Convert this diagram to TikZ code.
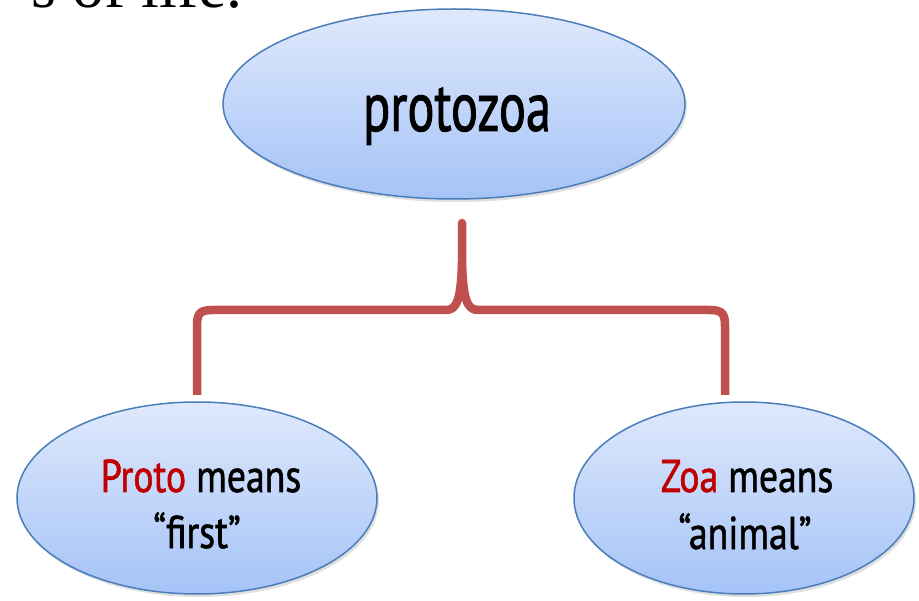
\documentclass[tikz,border=0pt]{standalone}
\usepackage{fontspec}
\setmainfont{Liberation Serif}
\newfontfamily\biglblfont[FakeStretch=0.72,FakeBold=1.2]{PT Sans}
\newfontfamily\lblfont[FakeStretch=0.82,FakeBold=1.2]{PT Sans}
\usetikzlibrary{shapes.geometric,shadows,calc}
\definecolor{bord}{HTML}{4A7EBB}
\definecolor{ftop}{HTML}{DFE9FC}
\definecolor{fbot}{HTML}{A5C3F7}
\definecolor{bracecol}{HTML}{C0504D}
\definecolor{redtxt}{HTML}{C00000}
\begin{document}
\begin{tikzpicture}[x=1pt,y=-1pt,
  bubble/.style={ellipse, draw=bord, line width=1.5pt, top color=ftop, bottom color=fbot, inner sep=0pt,
    drop shadow={opacity=0.25, shadow xshift=2pt, shadow yshift=-3pt}},
  lbl/.style={inner sep=0pt, anchor=base, font=\lblfont\fontsize{46}{50}\selectfont},
  bigl/.style={inner sep=0pt, anchor=base, font=\biglblfont\fontsize{70}{80}\selectfont},
  bracepath/.style={draw=bracecol, line width=8.5pt, line join=round}]
\useasboundingbox (0,0) rectangle (919,601);
\clip (0,0) rectangle (919,601);
\node[anchor=base east, inner sep=0pt, font=\fontsize{64}{70}\selectfont] (head) at (243,8) {s of life.};
\node[bubble, minimum width=462pt, minimum height=190pt] (T) at (454,104) {};
\node[bubble, minimum width=360pt, minimum height=192pt] (L) at (197,498) {};
\node[bubble, minimum width=340pt, minimum height=192pt] (R) at (744,498) {};
\node[bigl] (tT) at (457,131) {protozoa};
\node[lbl] (tL1) at (201,492) {\textcolor{redtxt}{Proto} means};
\node[lbl] (tL2) at (197,548) {“first”};
\node[lbl] (tR1) at (747,492) {\textcolor{redtxt}{Zoa} means};
\node[lbl] (tR2) at (745,549) {“animal”};
\coordinate (bt) at (462,223);
\coordinate (bl) at (197,395);
\coordinate (br) at (725,395);
\coordinate (cusp) at (462,262);
\draw[bracepath] (bl) -- (197,326) .. controls (197,313) and (200,310) .. (213,310) -- (446,310) .. controls (457,310) and (461,299) .. (cusp) -- (bt);
\draw[bracepath] (br) -- (725,326) .. controls (725,313) and (722,310) .. (709,310) -- (478,310) .. controls (467,310) and (463,299) .. (cusp);
\fill[bracecol] (bt) circle (4.25pt);
\end{tikzpicture}
\end{document}
